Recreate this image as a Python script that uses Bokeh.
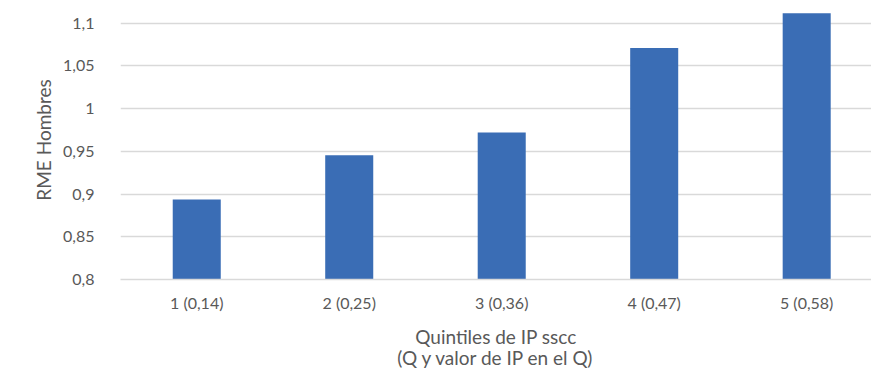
from bokeh.plotting import figure
from bokeh.models import FixedTicker, CustomJSTickFormatter, ColumnDataSource
from bokeh.embed import file_html
from bokeh.resources import INLINE

categories = ["1 (0,14)", "2 (0,25)", "3 (0,36)", "4 (0,47)", "5 (0,58)"]
values = [0.8935, 0.9455, 0.972, 1.071, 1.1115]
y_ticks = [0.8, 0.85, 0.9, 0.95, 1.0, 1.05, 1.1]

xs = list(range(len(categories)))
src = ColumnDataSource(dict(x=xs, top=values))

p = figure(width=871, height=372, output_backend="svg", toolbar_location=None,
           x_range=(-0.5, 4.425), y_range=(0.8, 1.1265),
           min_border_left=120, min_border_right=0, min_border_top=0, min_border_bottom=89)
p.outline_line_color = None
p.background_fill_color = "white"
p.border_fill_color = "white"

p.vbar(x="x", top="top", bottom=0.8, width=0.315, source=src,
       fill_color="#3A6DB5", line_color=None)

FONT = "Lato"
GRAY = "#595959"

p.xgrid.grid_line_color = None
p.ygrid.grid_line_color = "#d9d9d9"
p.ygrid.grid_line_width = 1.3
p.ygrid.ticker = FixedTicker(ticks=y_ticks)

ya = p.yaxis[0]
ya.ticker = FixedTicker(ticks=y_ticks)
ya.formatter = CustomJSTickFormatter(code="""
let s = tick.toFixed(2).replace(/0+$/, '').replace(/\\.$/, '');
return s.replace('.', ',');
""")
ya.axis_line_color = None
ya.major_tick_line_color = None
ya.minor_tick_line_color = None
ya.major_label_standoff = 20
ya.major_label_text_font = FONT
ya.major_label_text_font_size = "16px"
ya.major_label_text_color = GRAY
ya.axis_label = "RME Hombres"
ya.axis_label_text_font = FONT
ya.axis_label_text_font_size = "19px"
ya.axis_label_text_font_style = "normal"
ya.axis_label_text_color = GRAY
ya.axis_label_standoff = 5

xa = p.xaxis[0]
xa.ticker = FixedTicker(ticks=xs)
xa.major_label_overrides = {i: c for i, c in zip(xs, categories)}
xa.axis_line_color = "#d9d9d9"
xa.axis_line_width = 1.3
xa.major_tick_line_color = None
xa.minor_tick_line_color = None
xa.major_label_standoff = 7
xa.major_label_text_font = FONT
xa.major_label_text_font_size = "16px"
xa.major_label_text_color = GRAY
xa.axis_label = "Quintiles de IP sscc\n(Q y valor de IP en el Q)"
xa.axis_label_text_font = FONT
xa.axis_label_text_font_size = "19px"
xa.axis_label_text_font_style = "normal"
xa.axis_label_text_color = GRAY
xa.axis_label_text_line_height = 0.95
xa.axis_label_standoff = 10

open("out.html", "w").write(file_html(p, INLINE))
